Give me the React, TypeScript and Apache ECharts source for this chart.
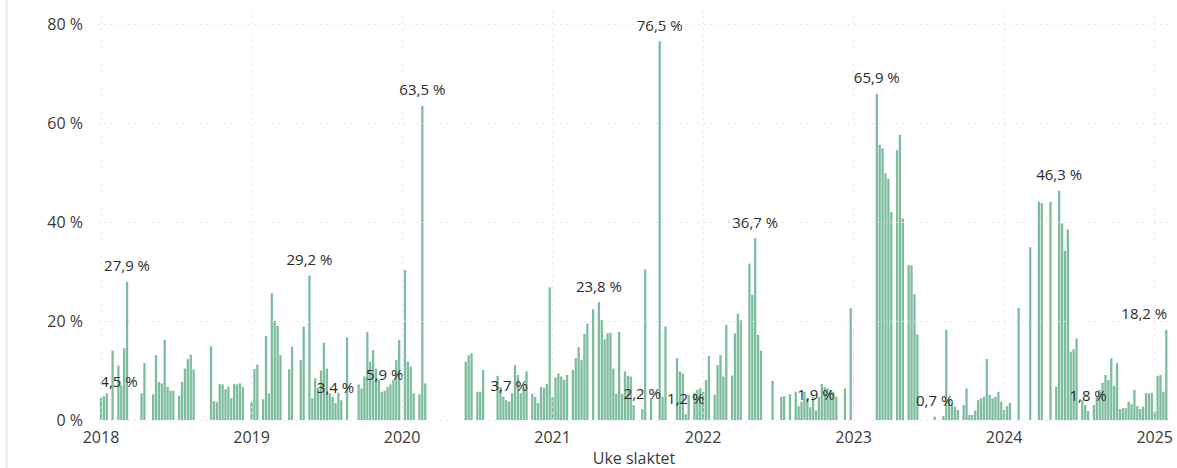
import React, { useEffect, useRef } from "react";
import * as echarts from "echarts";

// Year labels on the x axis
const years = [2018, 2019, 2020, 2021, 2022, 2023, 2024, 2025];
// Y axis tick values (percent)
const yTicks = [0, 20, 40, 60, 80];

// Weekly values (percent), index = week of the year (0-based), null = no data
const y2018 = [4.5, 4.8, 5.4, null, 14.0, null, 11.0, 7.0, 14.5, 27.9, null, null, null, null, 5.4, 11.5, null, null, 5.2, 13.1, 7.7, 7.4, 16.2, 6.7, 5.9, 5.9, null, 4.9, 7.7, 10.4, 12.3, 13.2, 10.2, null, null, null, null, null, 14.9, 3.8, 3.6, 7.3, 7.2, 6.2, 6.7, 4.4, 7.3, 7.2, 7.4, 6.7, null, null];
const y2019 = [3.6, 10.3, 11.2, null, 4.2, 17.0, 5.4, 25.6, 20.0, 19.0, 13.1, null, null, 10.2, 14.8, null, null, 12.1, 18.9, null, 29.2, 4.4, 8.4, 6.5, 10.0, 15.6, 10.4, 5.4, 4.7, 3.4, 5.5, 4.0, null, 16.7, null, null, null, 7.2, 6.4, 8.8, 17.8, 11.8, 14.1, 10.4, 8.1, 5.7, 5.9, 6.7, 7.2, 8.1, 12.1, 16.2];
const y2020 = [null, 30.3, 11.8, 10.8, 5.4, null, 5.2, 63.5, 7.4, null, null, null, null, null, null, null, null, null, null, null, null, null, 11.8, 13.1, 13.5, null, 5.7, 5.7, 10.1, null, null, null, null, 8.9, 6.7, 4.7, 4.0, 3.7, 5.4, 11.1, 9.1, 5.4, 6.4, 9.8, null, 5.3, 4.7, 3.4, 6.7, 6.5, 7.3, 26.8];
const y2021 = [4.6, 8.6, 9.4, 8.8, 8.1, 9.1, null, 10.1, 12.5, 14.7, 12.1, 17.4, 19.5, null, 22.4, null, 23.8, 20.2, 16.3, 17.5, 17.6, 10.4, 5.3, 17.8, 5.3, 9.8, 8.9, 8.8, 3.0, null, null, 2.2, 30.4, null, 4.4, null, null, 76.5, 4.7, 18.9, null, null, null, 12.5, 9.8, 9.4, 1.2, 5.1, null, 5.5, 6.1, 6.4];
const y2022 = [5.7, 8.1, 12.9, null, 5.1, 11.1, 13.1, 8.8, 19.2, null, 9.0, 17.5, 21.5, 20.2, null, null, 31.6, 25.3, 36.7, 17.2, 14.0, null, null, null, 7.9, null, null, 4.7, 4.8, null, 5.2, null, 5.7, 2.8, 3.7, 5.7, 4.4, 2.6, 4.7, 1.9, 4.7, 7.3, 6.7, 6.4, 6.1, 5.7, 4.7, null, null, 6.4, null, 22.6];
const y2023 = [null, null, null, null, null, null, null, null, 65.9, 55.6, 54.9, 49.8, 48.7, 42.0, null, 54.5, 57.6, 40.7, null, 31.3, 31.2, 25.4, 17.3, null, null, null, null, null, 0.7, null, null, 0.8, 18.2, 4.0, 3.2, 2.7, 2.0, null, 3.0, 6.4, 1.0, 1.0, 1.9, 4.0, 4.4, 4.7, 12.3, 5.1, 4.4, 4.7, 5.7, 3.7];
const y2024 = [2.0, 2.8, 3.5, null, null, 22.6, null, null, null, 34.9, null, null, 44.1, 43.8, null, null, 44.1, null, 6.7, 46.3, 39.7, 34.2, 38.5, 13.8, 14.3, 16.5, null, 4.0, 3.0, 1.8, null, 3.0, 4.7, 6.1, 7.5, 9.1, 8.1, 12.5, 6.9, 11.5, 2.2, 2.4, 2.4, 3.7, 3.2, 6.1, 2.8, 2.2, 2.7, 5.4, 5.4, 5.5];
const y2025 = [1.7, 8.9, 9.1, 5.7, 18.2];

const weeklyByYear = [y2018, y2019, y2020, y2021, y2022, y2023, y2024, y2025];

// Bars that carry a data label: [year, week index]
const labelledWeeks = [
  [2018, 0], [2018, 9], [2019, 20], [2019, 29], [2019, 46], [2020, 7], [2020, 37],
  [2021, 16], [2021, 31], [2021, 37], [2021, 46], [2022, 18], [2022, 39],
  [2023, 8], [2023, 28], [2024, 19], [2024, 29], [2025, 4],
];

const FONT = "'Segoe UI', 'Open Sans', sans-serif";
const TEXT = "#3b3a39";
const GRID = "#e8dfdb";

export default function App() {
  const ref = useRef<HTMLDivElement>(null);

  useEffect(() => {
    if (!ref.current) return;
    const chart = echarts.init(ref.current, null, { renderer: "svg" });
    const labelSet = new Set(labelledWeeks.map(([y, w]) => `${y}-${w}`));
    const data: any[] = [];
    years.forEach((yr, i) => {
      weeklyByYear[i].forEach((v, w) => {
        if (v == null) return;
        const item: any = { value: [yr + w / 52, v] };
        if (labelSet.has(`${yr}-${w}`)) {
          item.label = { show: true };
          if (yr === 2018 && w === 0) item.label.offset = [18, 0];
          if (yr === 2025 && w === 4) item.label.offset = [-22, 0];
        }
        data.push(item);
      });
    });

    chart.setOption({
      animation: false,
      textStyle: { fontFamily: FONT },
      grid: { left: 98, right: 5, top: 10, bottom: 48 },
      xAxis: {
        type: "value",
        min: 2017.98,
        max: 2025.115,
        axisLine: { show: false },
        axisTick: { show: false },
        splitLine: { show: false },
        axisLabel: {
          customValues: years,
          formatter: (v: number) => String(Math.round(v)),
          fontSize: 16,
          color: TEXT,
          margin: 9,
          fontFamily: FONT,
        },
      },
      yAxis: {
        type: "value",
        min: 0,
        max: 82.83,
        axisLine: { show: false },
        axisTick: { show: false },
        splitLine: { show: false },
        axisLabel: {
          customValues: yTicks,
          formatter: (v: number) => `${v} %`,
          fontSize: 16,
          color: TEXT,
          margin: 15,
          fontFamily: FONT,
        },
      },
      series: [
        {
          type: "line",
          z: 1,
          data: [],
          silent: true,
          markLine: {
            silent: true,
            symbol: ["none", "none"],
            label: { show: false },
            lineStyle: { color: GRID, type: [1.5, 4.5], width: 1 },
            data: [
              ...years.map((y) => ({ xAxis: y })),
              ...yTicks.map((v) => ({ yAxis: v })),
            ],
          },
        },
        {
          type: "bar",
          z: 2,
          barWidth: 2.3,
          data,
          itemStyle: { color: "#7dbd9e" },
          label: {
            show: false,
            position: "top",
            distance: 9,
            fontSize: 15,
            color: "#2b2b2b",
            fontFamily: FONT,
            formatter: (p: any) => p.value[1].toFixed(1).replace(".", ",") + " %",
          },
        },
      ],
      graphic: [
        { type: "rect", left: 5, top: 0, shape: { width: 3, height: 468 }, style: { fill: "#f2efed" }, silent: true },
        {
          type: "text",
          x: 634,
          y: 458,
          style: { text: "Uke slaktet", fontSize: 16, fill: TEXT, fontFamily: FONT, textAlign: "center", textVerticalAlign: "middle" },
          silent: true,
        },
      ],
    });

    return () => chart.dispose();
  }, []);

  return <div ref={ref} style={{ position: "absolute", left: 0, top: 0, width: 1177, height: 468 }} />;
}
